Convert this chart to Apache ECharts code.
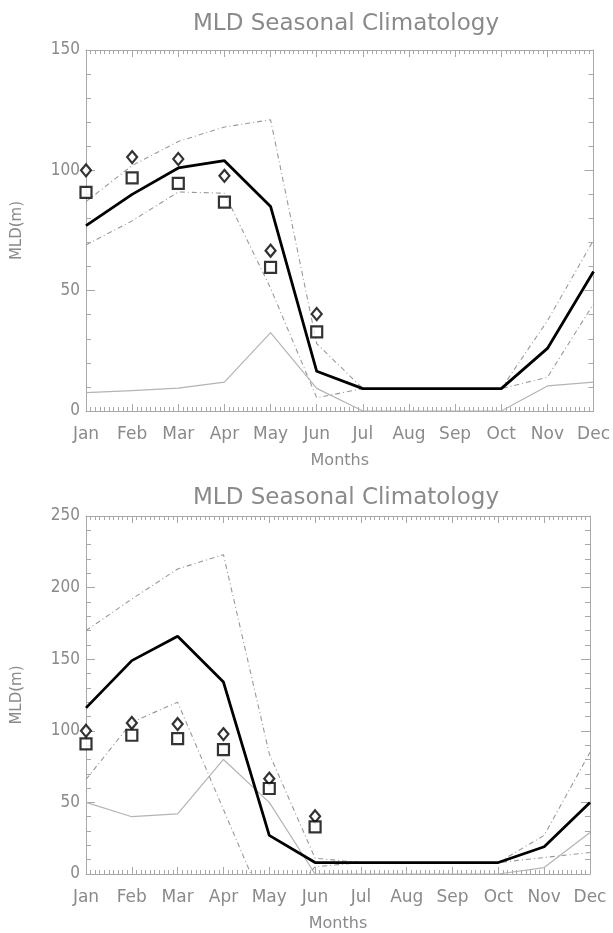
<!DOCTYPE html>
<html>
<head>
<meta charset="utf-8">
<style>
  html, body { margin: 0; padding: 0; background: #fff; }
  #chart { width: 613px; height: 933px; }
</style>
<script src="https://cdn.jsdelivr.net/npm/echarts@6/dist/echarts.min.js"></script>
</head>
<body>
<div id="chart"></div>
<script>
// ---- Data ----
const months = ['Jan','Feb','Mar','Apr','May','Jun','Jul','Aug','Sep','Oct','Nov','Dec'];

// Panel 1 (0-150 m)
const p1Mean  = [77, 90, 101, 104, 85, 16.5, 9.3, 9.3, 9.3, 9.3, 26, 58];
const p1Upper = [87, 102, 112, 118, 121, 28, 9.3, 9.3, 9.3, 9.3, 37.5, 71];
const p1Lower = [69, 79, 91, 90.5, 51, 5.5, 9.3, 9.3, 9.3, 9.3, 14, 44.5];
const p1Thin  = [7.6, 8.5, 9.5, 12, 32.6, 9.4, 0, 0, 0, 0, 10.4, 12];

// Panel 2 (0-250 m)
const p2Mean  = [116, 149, 166, 134, 27, 8, 8, 8, 8, 8, 19, 50];
const p2Upper = [170, 192, 213, 223, 84, 11, 8, 8, 8, 8, 27, 85];
const p2Lower = [66, 106, 120, 45, -30, 5, 8, 8, 8, 8, 11.5, 15];
const p2Thin  = [50, 40, 42, 80, 50, 0, 0, 0, 0, 0, 4.5, 29];

// Observations (both panels), Jan-Jun
const obsDiamond = [100, 105.5, 104.7, 97.7, 66.6, 40.3];
const obsSquare  = [90.8, 96.9, 94.6, 86.8, 59.7, 32.9];

const p1Ticks = [0, 50, 100, 150];
const p2Ticks = [0, 50, 100, 150, 200, 250];

// ---- Styling helpers ----
const AXIS_COLOR = '#a8a8a8';
const TEXT_COLOR = '#8a8a8a';
const FONT = 'DejaVu Sans';
const NUM_FONT = '"DejaVu Sans Condensed", "Liberation Sans", sans-serif';
const pairs = arr => arr.map((v, i) => [i, v]);

function xAxes(gridIndex) {
  const common = {
    type: 'value', gridIndex, min: 0, max: 11, interval: 1,
    splitLine: { show: false },
    axisLine: { show: true, onZero: false, lineStyle: { color: AXIS_COLOR, width: 1 } },
    axisTick: { show: true, inside: true, length: 7, lineStyle: { color: AXIS_COLOR } },
    minorTick: { show: true, splitNumber: 10, length: 4, lineStyle: { color: AXIS_COLOR } }
  };
  return [
    Object.assign({}, common, {
      position: 'bottom',
      name: 'Months', nameLocation: 'middle', nameGap: 42,
      nameTextStyle: { color: TEXT_COLOR, fontFamily: FONT, fontSize: 16 },
      axisLabel: { show: true, margin: 15, color: TEXT_COLOR, fontFamily: FONT, fontSize: 17,
        formatter: v => months[v] || '' }
    }),
    Object.assign({}, common, { position: 'top', axisLabel: { show: false } })
  ];
}

function yAxes(gridIndex, max, ticks) {
  const common = {
    type: 'value', gridIndex, min: 0, max, interval: 50,
    splitLine: { show: false },
    axisLine: { show: true, onZero: false, lineStyle: { color: AXIS_COLOR, width: 1 } },
    axisTick: { show: true, inside: true, length: 9, lineStyle: { color: AXIS_COLOR } },
    minorTick: { show: true, splitNumber: 5, length: 5, lineStyle: { color: AXIS_COLOR } }
  };
  return [
    Object.assign({}, common, {
      position: 'left',
      name: 'MLD(m)', nameLocation: 'middle', nameGap: 61,
      nameTextStyle: { color: TEXT_COLOR, fontFamily: FONT, fontSize: 15 },
      axisLabel: { show: true, margin: 6, color: TEXT_COLOR, fontFamily: NUM_FONT, fontSize: 17,
        formatter: v => (ticks.indexOf(v) >= 0 ? String(v) : '') }
    }),
    Object.assign({}, common, { position: 'right', axisLabel: { show: false } })
  ];
}

function panelSeries(xi, yi, mean, upper, lower, thin) {
  const base = { type: 'line', xAxisIndex: xi, yAxisIndex: yi, symbol: 'none', clip: true, animation: false };
  return [
    Object.assign({}, base, { name: 'thin', data: pairs(thin), z: 2,
      lineStyle: { color: '#b4b4b4', width: 1.2 } }),
    Object.assign({}, base, { name: 'upper', data: pairs(upper), z: 3,
      lineStyle: { color: '#999', width: 1.1, type: [5, 3, 1, 3] } }),
    Object.assign({}, base, { name: 'lower', data: pairs(lower), z: 3,
      lineStyle: { color: '#999', width: 1.1, type: [5, 3, 1, 3] } }),
    Object.assign({}, base, { name: 'mean', data: pairs(mean), z: 4,
      lineStyle: { color: '#000', width: 2.8 } }),
    { type: 'scatter', xAxisIndex: xi, yAxisIndex: yi, data: pairs(obsDiamond), z: 5,
      symbol: 'diamond', symbolSize: [10, 12], animation: false,
      itemStyle: { color: '#fff', borderColor: '#000', borderWidth: 2.2 } },
    { type: 'scatter', xAxisIndex: xi, yAxisIndex: yi, data: pairs(obsSquare), z: 5,
      symbol: 'rect', symbolSize: 11, animation: false,
      itemStyle: { color: '#fff', borderColor: '#000', borderWidth: 2.2 } }
  ];
}

const chart = echarts.init(document.getElementById('chart'), null, { renderer: 'canvas' });
chart.setOption({
  backgroundColor: '#fff',
  animation: false,
  title: [
    { text: 'MLD Seasonal Climatology', left: 341, top: 8, textAlign: 'center',
      textStyle: { color: TEXT_COLOR, fontFamily: FONT, fontWeight: 'normal', fontSize: 23 } },
    { text: 'MLD Seasonal Climatology', left: 341, top: 482, textAlign: 'center',
      textStyle: { color: TEXT_COLOR, fontFamily: FONT, fontWeight: 'normal', fontSize: 23 } }
  ],
  grid: [
    { left: 86, top: 50, width: 510, height: 361 },
    { left: 86, top: 516, width: 504, height: 358 }
  ],
  xAxis: [].concat(xAxes(0), xAxes(1)),
  yAxis: [].concat(yAxes(0, 150, p1Ticks), yAxes(1, 250, p2Ticks)),
  series: [].concat(
    panelSeries(0, 0, p1Mean, p1Upper, p1Lower, p1Thin),
    panelSeries(2, 2, p2Mean, p2Upper, p2Lower, p2Thin)
  )
});
</script>
</body>
</html>
